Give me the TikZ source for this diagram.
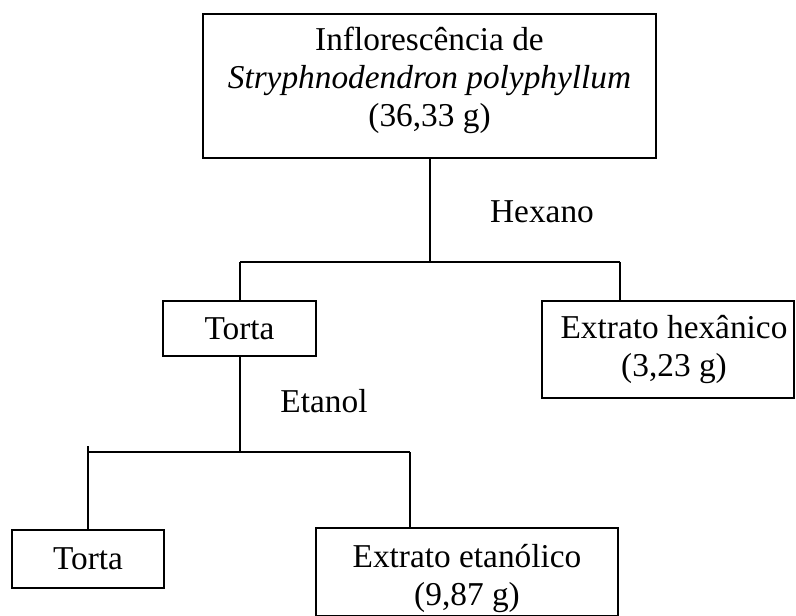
\documentclass[tikz,border=0pt]{standalone}
\usepackage{fontspec}
\setmainfont{Liberation Serif}
\begin{document}
\begin{tikzpicture}[x=0.75pt,y=-0.75pt,
  every node/.style={font=\fontsize{25}{28.5}\selectfont},
  frame/.style={draw, line width=1.4pt, inner sep=0pt},
  lbl/.style={inner sep=0pt, align=center},
  link/.style={line width=1.4pt}]
\useasboundingbox (0,0) rectangle (796,616);
% boxes
\node[frame, minimum width=339.75pt, minimum height=108pt] (src) at (429.5,86) {};
\node[lbl] (srct) at (429.5,80) {Inflorescência de\\\textit{Stryphnodendron polyphyllum}\\(36,33 g)};
\node[frame, minimum width=114.75pt, minimum height=41.25pt] (t1) at (239.5,328.5) {Torta};
\node[frame, minimum width=189pt, minimum height=72.75pt] (hex) at (668,349.5) {};
\node[lbl] (hext) at (674,350) {Extrato hexânico\\(3,23 g)};
\node[frame, minimum width=114pt, minimum height=43.5pt] (t2) at (88,559) {Torta};
\node[frame, minimum width=226.5pt, minimum height=66pt] (et) at (467,572) {};
\node[lbl] (ett) at (467,579) {Extrato etanólico\\(9,87 g)};
% solvent labels
\node[lbl] (hexano) at (542,212) {Hexano};
\node[lbl] (etanol) at (324,401) {Etanol};
% junctions
\coordinate (j1) at (430,262);
\coordinate (j1l) at (240,262);
\coordinate (j1r) at (620,262);
\coordinate (j2) at (240,452);
\coordinate (j2l) at (88,452);
\coordinate (j2s) at (88,446);
\coordinate (j2r) at (410,452);
% connectors
\draw[link] (src.south -| j1) -- (j1);
\draw[link] (j1l) -- (j1r);
\draw[link] (j1l) -- (j1l |- t1.north);
\draw[link] (j1r) -- (j1r |- hex.north);
\draw[link] (t1.south -| j2) -- (j2);
\draw[link] (j2l) -- (j2r);
\draw[link] (j2s) -- (j2s |- t2.north);
\draw[link] (j2r) -- (j2r |- et.north);
\end{tikzpicture}
\end{document}
